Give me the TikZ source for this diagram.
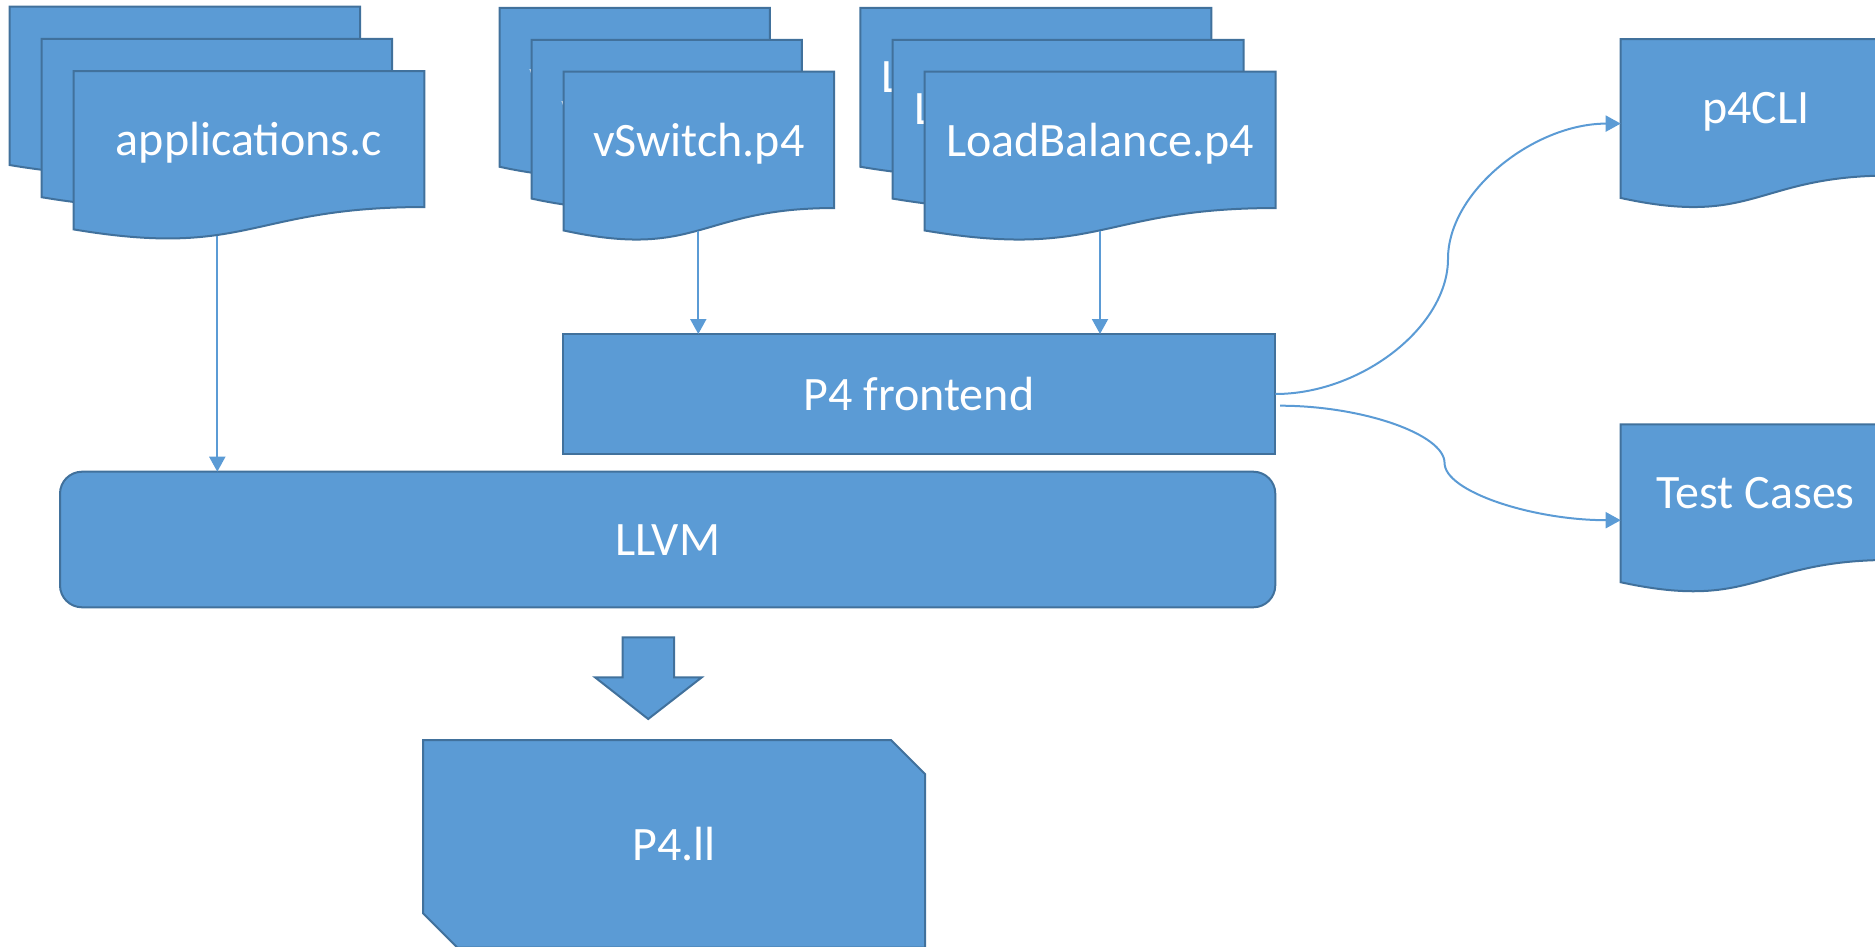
\documentclass[tikz,border=0pt]{standalone}
\usepackage{fontspec}
\setmainfont{Carlito}
\usetikzlibrary{arrows.meta,calc}

\definecolor{docfill}{HTML}{5B9BD5}
\definecolor{docline}{HTML}{41719C}
\definecolor{connline}{HTML}{5B9BD5}

\tikzset{
  shapefill/.style={fill=docfill, draw=docline, line width=1pt, line join=miter},
  lbl/.style={text=white, font=\fontsize{24pt}{29pt}\selectfont,
    inner sep=0pt, outer sep=0pt, text height=22.85pt, text depth=6.45pt},
  boxnode/.style={shapefill, lbl, rectangle, inner sep=0pt, outer sep=0pt},
  conn/.style={draw=connline, line width=1pt,
    -{Triangle[length=7.5pt,width=8pt]}},
  % two-segment S-shaped curved connector; the argument places the bend
  scurve/.style={to path={
    let \p1=(\tikztostart), \p2=(\tikztotarget),
        \n1={(1-#1)*\x1+#1*\x2} in
    .. controls ({0.5*\x1+0.5*\n1},\y1) and (\n1,{0.75*\y1+0.25*\y2})
    .. (\n1,{0.5*\y1+0.5*\y2})
    .. controls (\n1,{0.25*\y1+0.75*\y2}) and ({0.5*\n1+0.5*\x2},\y2)
    .. (\tikztotarget)}},
  scurve/.default=0.5
}

% document shape with a wavy bottom edge:
% #1 name, #2 left, #3 top, #4 width, #5 height, #6 label
\newcommand\wavedoc[6]{%
  \pgfmathsetmacro\dxr{#2+#4}%
  \pgfmathsetmacro\dxm{#2+0.5*#4}%
  \pgfmathsetmacro\dya{#3+0.802*#5}%
  \pgfmathsetmacro\dyb{#3+1.1075*#5}%
  \pgfmathsetmacro\dyc{#3+0.934*#5}%
  \pgfmathsetmacro\dyt{#3+0.401*#5}%
  \filldraw[shapefill] (#2,#3) -- (\dxr,#3) -- (\dxr,\dya)
    .. controls (\dxm,\dya) and (\dxm,\dyb) .. (#2,\dyc) -- cycle;
  \node[lbl] (#1) at (\dxm,\dyt) {#6};
}

\begin{document}
\begin{tikzpicture}[x=0.5pt,y=-0.5pt]
\path[use as bounding box] (0,0) rectangle (1875,947);
\clip (0,0) rectangle (1875,947);

% source files
\wavedoc{app1}{9.5}{6.7}{350.6}{169.5}{applications.c}
\wavedoc{app2}{41.6}{38.9}{350.6}{169.5}{applications.c}
\wavedoc{app3}{73.7}{71.1}{350.6}{169.5}{applications.c}

\wavedoc{vsw1}{499.6}{8}{270.3}{170}{vSwitch.p4}
\wavedoc{vsw2}{531.6}{39.8}{270.3}{170}{vSwitch.p4}
\wavedoc{vsw3}{563.7}{71.7}{270.3}{170}{vSwitch.p4}

\wavedoc{lb1}{860.4}{8}{351}{170}{LoadBalance.p4}
\wavedoc{lb2}{892.5}{39.8}{351}{170}{LoadBalance.p4}
\wavedoc{lb3}{924.6}{71.7}{351}{170}{LoadBalance.p4}

% compiler stages
\node[boxnode, minimum width=356.3pt, minimum height=60pt] (fe) at (919,394) {P4 frontend};
\node[boxnode, rounded corners=11pt, minimum width=607.65pt, minimum height=67.8pt] (llvm) at (667.65,539.5) {LLVM};

% outputs of the frontend
\wavedoc{cli}{1620.7}{39.2}{270}{170}{p4CLI}
\wavedoc{tc}{1620.7}{424.4}{270}{169}{Test Cases}

% connection points
\coordinate (app-out) at (217.3,236);
\coordinate (vsw-out) at (698.3,231);
\coordinate (lb-out) at (1100,231);
\coordinate (fe-out2) at (1280,405.7);
\coordinate (cli-in) at (1620.7,123.6);
\coordinate (tc-in) at (1620.7,520.2);

\draw[conn] (app-out) -- (app-out |- llvm.north);
\draw[conn] (vsw-out) -- (vsw-out |- fe.north);
\draw[conn] (lb-out) -- (lb-out |- fe.north);
\draw[conn] (fe.east) to[scurve=0.5] (cli-in);
\draw[conn] (fe-out2) to[scurve=0.483] (tc-in);

% block arrow down to the generated IR
\filldraw[shapefill] (622.5,637.3) -- (674,637.3) -- (674,677.3) -- (701.8,677.3)
  -- (648.2,719) -- (595,677.3) -- (622.5,677.3) -- cycle;

% generated IR file (snipped corners)
\filldraw[shapefill] (423.2,740) -- (891,740) -- (925,774) -- (925,947.5)
  -- (457.2,947.5) -- (423.2,913.5) -- cycle;
\node[lbl] (ll) at (674,843.7) {P4.ll};
\end{tikzpicture}
\end{document}
